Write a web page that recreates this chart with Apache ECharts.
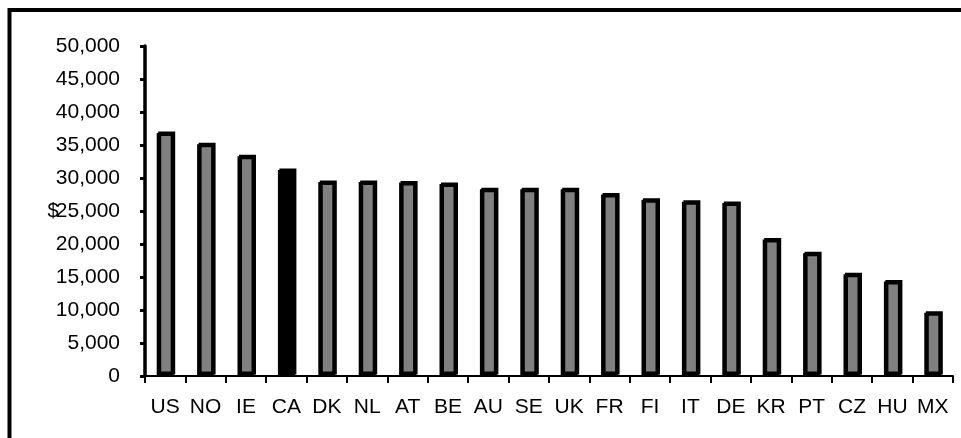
<!DOCTYPE html>
<html>
<head>
<meta charset="utf-8">
<script src="https://cdn.jsdelivr.net/npm/echarts@6/dist/echarts.min.js"></script>
<style>
html,body{margin:0;padding:0;background:#fff;}
#c{width:961px;height:438px;}
</style>
</head>
<body>
<div id="c"></div>
<script>
const categories = ["US","NO","IE","CA","DK","NL","AT","BE","AU","SE","UK","FR","FI","IT","DE","KR","PT","CZ","HU","MX"];
const values = [36800,35100,33300,31200,29400,29400,29300,29100,28300,28300,28300,27500,26700,26400,26200,20700,18600,15400,14300,9600];
const highlight = "CA";
const yTicks = {min:0, max:50000, interval:5000};
const yTitle = "$";

const chart = echarts.init(document.getElementById('c'), null, {renderer:'canvas'});
const font = '"Liberation Sans", Arial, sans-serif';
const data = values.map((v,i)=>({
  value: v,
  itemStyle: categories[i]===highlight ? {color:'#000'} : undefined
}));
chart.setOption({
  animation:false,
  backgroundColor:'#fff',
  graphic:[{
    type:'rect', silent:true,
    shape:{x:9.5,y:10,width:1100,height:1100},
    style:{fill:'none',stroke:'#000',lineWidth:4}
  },{
    type:'text', silent:true, x:53, y:211,
    style:{text:yTitle,fill:'#000',font:'20px "Liberation Sans", Arial, sans-serif',
      textAlign:'center',textVerticalAlign:'middle'}
  }],
  grid:{left:145,right:8,top:46,bottom:62,containLabel:false},
  xAxis:{
    type:'category', data:categories,
    axisLine:{lineStyle:{color:'#000',width:2}},
    axisTick:{show:true,alignWithLabel:false,length:7,lineStyle:{color:'#000',width:2}},
    axisLabel:{color:'#000',fontFamily:font,fontSize:21,margin:21,interval:0,hideOverlap:false},
    splitLine:{show:false}
  },
  yAxis:{
    type:'value', min:yTicks.min, max:yTicks.max, interval:yTicks.interval,
    axisLine:{show:true,lineStyle:{color:'#000',width:3.5}},
    axisTick:{show:true,length:5,lineStyle:{color:'#000',width:3}},
    axisLabel:{color:'#000',fontFamily:font,fontSize:21,margin:25,
      formatter:v=>v.toLocaleString('en-US')},
    splitLine:{show:false}
  },
  series:[{
    type:'bar', data:data, barWidth:17,
    itemStyle:{color:'#808080',borderColor:'#000',borderWidth:3,
      shadowColor:'#000',shadowOffsetX:1.5,shadowOffsetY:-1.5,shadowBlur:0}
  }]
});
</script>
</body>
</html>
